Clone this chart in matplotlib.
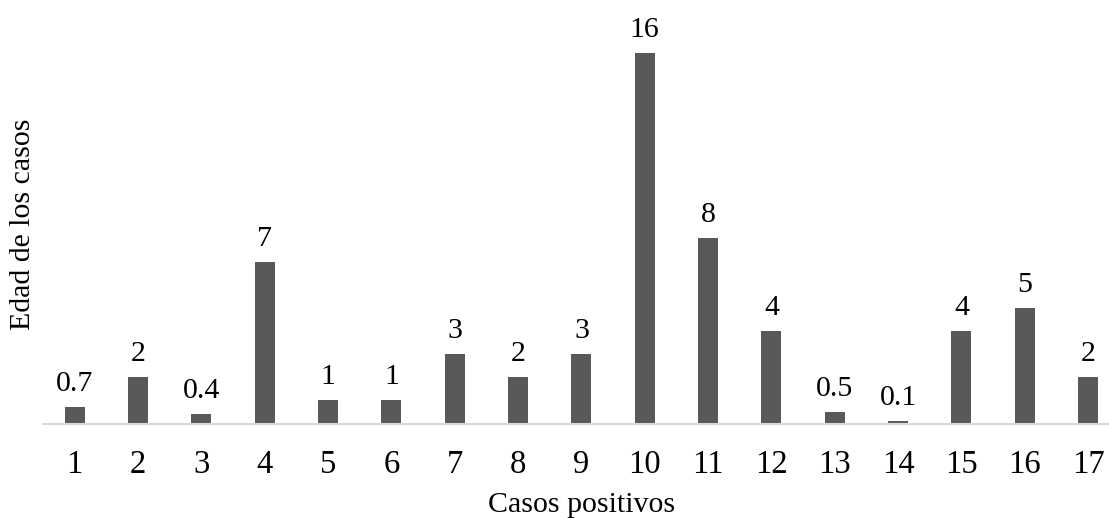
import numpy as np
import matplotlib.pyplot as plt

casos = ['1', '2', '3', '4', '5', '6', '7', '8', '9', '10',
         '11', '12', '13', '14', '15', '16', '17']
edades = [0.7, 2, 0.4, 7, 1, 1, 3, 2, 3, 16, 8, 4, 0.5, 0.1, 4, 5, 2]
etiquetas = ['0.7', '2', '0.4', '7', '1', '1', '3', '2', '3', '16',
             '8', '4', '0.5', '0.1', '4', '5', '2']

plt.rcParams['font.family'] = ['Liberation Serif', 'DejaVu Serif']

fig = plt.figure(figsize=(11.09, 5.18), dpi=100)
ax = fig.add_axes([43 / 1109, (518 - 423.5) / 518, 1 - 43 / 1109, 423.5 / 518])

x = np.arange(len(casos))
barras = ax.bar(x, edades, width=0.316, color='#595959', zorder=2)

# valor encima de cada barra
for b, txt in zip(barras, etiquetas):
    ax.annotate(txt, (b.get_x() + b.get_width() / 2, b.get_height()),
                xytext=(0, 11.5), textcoords='offset points',
                ha='center', va='baseline', fontsize=21.5)

ax.set_xlim(-0.5, 16.33)
ax.set_ylim(0, 18.3)
ax.set_xticks(x)
ax.set_xticklabels(casos, fontsize=23.5)
ax.set_yticks([])
ax.tick_params(axis='x', length=0, pad=19)

for s in ['top', 'right', 'left']:
    ax.spines[s].set_visible(False)
ax.spines['bottom'].set_color('#d9d9d9')
ax.spines['bottom'].set_linewidth(1.5)

fig.text(582 / 1109, 1 - 505 / 518, 'Casos positivos', ha='center', va='center', fontsize=21.5)
fig.text(23 / 1109, 1 - 224 / 518, 'Edad de los casos', ha='center', va='center',
         rotation=90, fontsize=21.5)

fig.savefig('out.png', dpi=100)
